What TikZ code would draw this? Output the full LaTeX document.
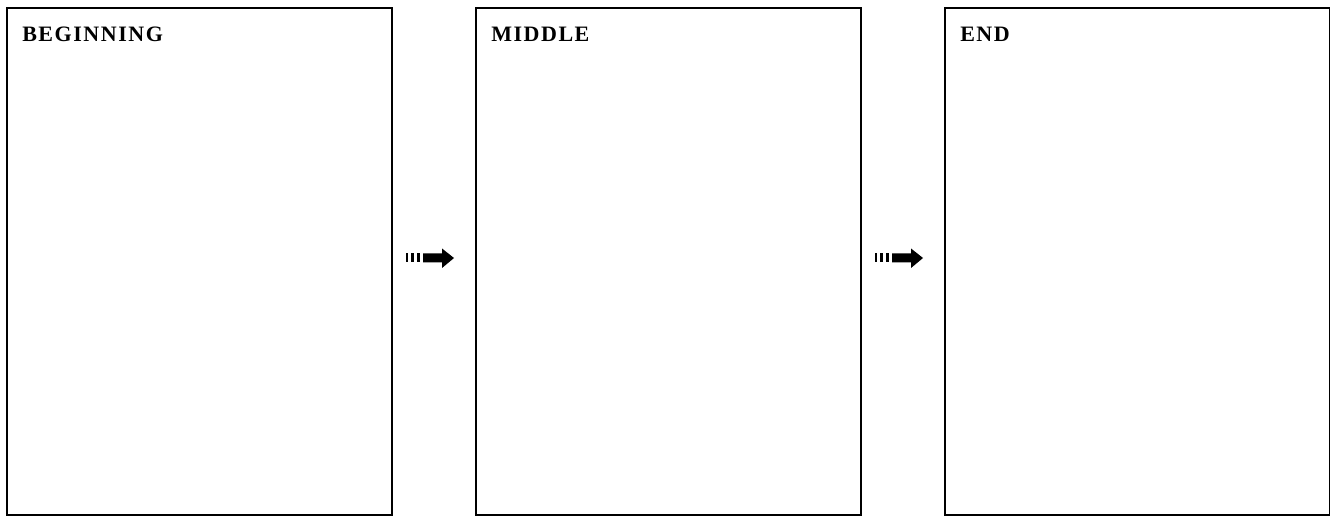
\documentclass[tikz,border=0pt]{standalone}
\usepackage{fontspec}
\setmainfont{Liberation Serif}
\begin{document}
\begin{tikzpicture}[x=0.75pt,y=-0.75pt,
  panel/.style={draw=black,line width=1.2pt,minimum width=385*0.75pt,minimum height=507*0.75pt,inner sep=0pt,anchor=north west},
  title/.style={anchor=base west,inner sep=0pt,font=\fontsize{16.5}{19}\selectfont\bfseries\addfontfeature{LetterSpace=7}},
  arrowfill/.style={fill=black,draw=none}]
\useasboundingbox (0,0) rectangle (1330,516);
\node[panel] (b1) at (6,7) {};
\node[panel] (b2) at (475,7) {};
\node[panel] (b3) at (944,7) {};
\node[title] (t1) at (22,42) {BEGINNING};
\node[title] (t2) at (491,42) {MIDDLE};
\node[title] (t3) at (960,42) {END};
\foreach \ox/\nm in {406/a1,875/a2}{
  \begin{scope}[shift={(\ox,0)}]
    \fill[arrowfill] (0,253.5) rectangle (2,262.5);
    \fill[arrowfill] (5,253.5) rectangle (8,262.5);
    \fill[arrowfill] (11,253.5) rectangle (14,262.5);
    \fill[arrowfill] (17,253.5) -- (36,253.5) -- (36,248.5) -- (48,258) -- (36,268) -- (36,262.5) -- (17,262.5) -- cycle;
    \coordinate (\nm) at (24,258);
  \end{scope}
}
\end{tikzpicture}
\end{document}
